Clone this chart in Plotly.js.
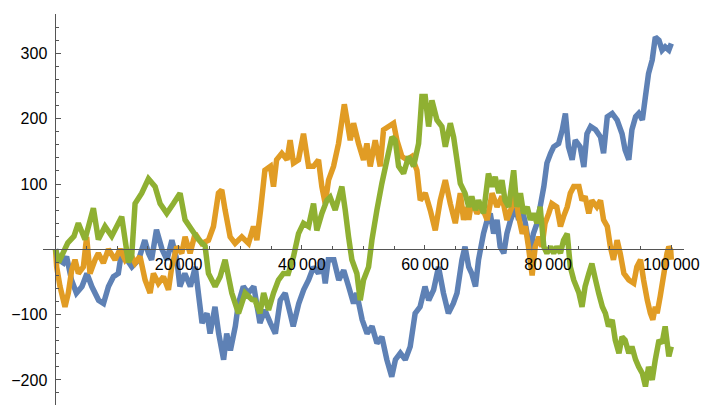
<!DOCTYPE html>
<html>
<head>
<meta charset="utf-8">
<script src="https://cdn.plot.ly/plotly-3.0.1.min.js"></script>
<style>html,body{margin:0;padding:0;background:#fff;}#chart{width:704px;height:405px;}</style>
</head>
<body>
<div id="chart"></div>
<script>
const blueX = [0,500,1300,1800,2600,3400,4300,5100,5900,7000,
7800,8600,9400,10200,10800,11600,12400,13500,14500,15100,
15600,16400,17300,18100,18900,19700,20200,21000,21900,22700,
23200,23800,24600,25100,25900,26500,27300,27800,28400,29200,
29700,30500,31300,32200,33200,34000,34900,35700,36500,37300,
38100,38600,39500,40300,41100,41900,42700,43300,43800,44300,
45200,46000,46800,47600,48400,48900,49800,50600,51400,52200,
53000,53800,54600,55200,56000,56800,57600,58400,59200,60000,
60600,61400,62200,63000,63800,64600,65200,66000,66500,67100,
67600,68200,68700,69500,70100,70600,71150,71700,72200,72800,
73300,73900,74700,75200,75800,76300,77100,77600,78200,78700,
79300,79800,80400,80900,81700,82300,82800,83300,83900,84400,
85200,85800,86300,86900,87700,88500,89000,89600,90400,91200,
92000,92500,93100,93600,94200,94700,95300,95800,96300,96900,
97400,98000,98500,99000,99600,100000];
const blueY = [0,-16,-21,-11,-47,-67,-57,-37,-57,-78,
-83,-57,-42,-37,0,-16,-27,-16,14,-6,
-16,30,0,-16,14,-16,-57,-37,-57,-27,
-67,-113,-98,-129,-88,-129,-169,-129,-155,-118,
-83,-57,-67,-57,-113,-93,-113,-129,-78,-67,
-98,-118,-83,-62,-47,-27,-37,-16,-52,-16,
-16,-47,-32,-57,-83,-67,-108,-129,-118,-144,
-134,-169,-195,-169,-159,-169,-149,-98,-88,-57,
-78,-62,-27,-67,-98,-83,-67,-16,4,-27,
-37,-57,-16,24,45,55,24,45,4,-6,
24,45,65,45,60,40,-6,24,40,65,
96,132,147,157,162,183,208,157,137,167,
157,126,177,188,183,172,147,203,208,198,
177,152,137,183,203,208,198,234,269,290,
325,320,305,310,305,315];

const orangeX = [0,190,730,1540,2080,2630,3170,3710,4520,5060,
5600,6420,6960,7770,8590,9670,10480,11300,12110,12920,
13730,14550,15360,15900,16710,17530,18340,18880,19690,20500,
21040,21860,22670,23750,24840,25650,26460,27000,27540,28360,
29170,30250,31340,32150,32700,33300,34000,34900,35400,35900,
36750,37600,38100,38650,39460,40270,41090,41900,42710,43250,
43800,44340,45150,45960,46900,47300,47860,48400,49210,50020,
50570,51110,51920,52730,53270,54090,54900,55440,56250,57070,
57880,58690,59230,60040,60860,61670,62480,63300,64110,64920,
65730,66270,66800,67100,67600,68440,69250,70100,70900,71700,
72500,73300,74100,74700,75200,75800,76300,76800,77400,77900,
78500,79000,79500,80100,80600,81400,82000,82500,83100,83600,
84150,85000,85500,86000,86600,87100,87900,88500,89000,89600,
90100,90600,91200,91700,92300,93100,93900,94400,95000,95500,
96100,96600,97000,97400,97700,98200,98800,99300,99600,99900,
100000];
const orangeY = [0,-27,-57,-88,-67,-32,-16,-37,-27,19,
-37,-16,-6,-21,0,-16,0,-16,-6,-21,
-11,-47,-67,-37,-52,-42,-62,-27,4,-6,
19,-6,24,9,14,35,86,91,60,19,
9,19,9,35,14,60,121,127,96,137,
147,137,167,132,137,177,127,127,137,96,
70,106,127,162,222,200,167,193,162,137,
162,127,167,127,183,188,193,167,142,137,
142,121,75,86,60,29,75,106,70,40,
86,45,65,45,75,55,65,45,86,65,
81,45,65,86,50,24,35,4,-40,4,
19,4,40,55,70,65,35,50,65,86,
96,96,75,81,55,75,65,75,45,35,
4,-16,14,-6,-37,-47,-52,-27,-16,-47,
-78,-98,-108,-88,-98,-72,-37,-6,4,-1,
-16];

const greenX = [0,500,1000,2000,3000,3710,4790,6150,6960,8040,
9130,10750,11840,12380,12920,14000,15090,16170,16980,18070,
19150,20230,21040,22130,23210,24290,24840,25920,26730,27540,
28630,29710,30790,31880,32400,33200,33800,34600,35400,36200,
37000,37800,38650,39460,40270,41090,41900,42440,43250,44070,
44600,45420,46500,47050,47590,48130,48940,49480,50020,50840,
51380,52190,53000,53820,54630,55170,55710,56520,57340,58150,
58960,59500,60040,60590,61130,61940,62750,63300,64110,64650,
65190,65730,66500,67100,67600,68200,68700,69500,70300,70900,
71400,72000,72500,73000,73600,74400,74900,75500,76000,76600,
77100,77600,78200,78700,79300,79800,80400,80900,81400,82000,
82500,83100,83600,84150,85000,85500,86000,86600,87100,87700,
88200,88800,89300,89800,90400,90900,91500,92000,92500,93100,
93600,94200,94700,95300,95800,96300,96900,97400,98000,98500,
99000,99600,100000];
const greenY = [0,-20,-10,10,20,40,15,63,15,35,
20,50,-20,-10,70,86,108,96,70,55,
70,86,45,30,15,5,-37,-57,-42,-16,
-67,-98,-67,-77,-78,-98,-67,-93,-67,-47,
-37,-37,-11,24,40,35,70,29,55,75,
80,60,96,60,19,-16,-37,-78,-47,-27,
14,60,101,137,172,167,127,116,142,127,
162,234,234,188,228,198,188,157,193,172,
137,101,86,65,81,60,75,55,116,96,
111,86,106,75,65,121,65,86,55,65,
45,55,40,65,4,-6,4,-6,4,-6,
14,24,-27,-47,-67,-88,-57,-37,-22,-47,
-67,-88,-98,-118,-108,-139,-159,-134,-139,-159,
-149,-169,-180,-190,-210,-180,-200,-169,-139,-144,
-118,-164,-149];

const xTickVals = [20000, 40000, 60000, 80000, 100000];
const xTickText = ['20\u2009000', '40\u2009000', '60\u2009000', '80\u2009000', '100\u2009000'];
const yTickVals = [-200, -100, 100, 200, 300];
const yTickText = ['\u2212200', '\u2212100', '100', '200', '300'];

const colors = ['#5E81B5', '#E19C24', '#8FB032'];
const series = [[blueX, blueY], [orangeX, orangeY], [greenX, greenY]];

const xMinor = [];
for (let v = 5000; v <= 100000; v += 5000) xMinor.push(v);
const yMinor = [];
for (let v = -220; v <= 360; v += 20) yMinor.push(v);

const traces = series.map((s, i) => ({
  type: 'scatter', mode: 'lines', x: s[0], y: s[1],
  line: {color: colors[i], width: 5.5, shape: 'linear', simplify: false},
  hoverinfo: 'skip'
}));

const axisColor = '#555';
const tickFont = {family: 'Liberation Sans, Arial, sans-serif', size: 16, color: '#000'};
const layout = {
  width: 704, height: 405,
  margin: {l: 43, r: 20, t: 14, b: 0, pad: 0},
  paper_bgcolor: '#fff', plot_bgcolor: '#fff',
  showlegend: false,
  xaxis: {
    range: [-2030, 102060], domain: [0, 1], anchor: 'free', position: 0.398,
    showgrid: false, zeroline: false, showline: true, linecolor: axisColor, linewidth: 1,
    ticks: 'inside', ticklen: 4, tickcolor: axisColor, tickwidth: 1,
    tickmode: 'array', tickvals: xTickVals, ticktext: xTickText, tickfont: tickFont,
    minor: {tickmode: 'array', tickvals: xMinor, ticks: 'inside', ticklen: 3, tickcolor: axisColor, showgrid: false},
    automargin: false, fixedrange: true
  },
  yaxis: {
    range: [-238.4, 360.3], domain: [0, 1], anchor: 'free', position: 0.0195,
    showgrid: false, zeroline: false, showline: true, linecolor: axisColor, linewidth: 1,
    ticks: 'inside', ticklen: 5, tickcolor: axisColor, tickwidth: 1,
    tickmode: 'array', tickvals: yTickVals, ticktext: yTickText, tickfont: tickFont,
    minor: {tickmode: 'array', tickvals: yMinor, ticks: 'inside', ticklen: 3, tickcolor: axisColor, showgrid: false},
    ticklabelstandoff: 5,
    automargin: false, fixedrange: true
  }
};

Plotly.newPlot('chart', traces, layout, {staticPlot: true, displayModeBar: false});
</script>
</body>
</html>
